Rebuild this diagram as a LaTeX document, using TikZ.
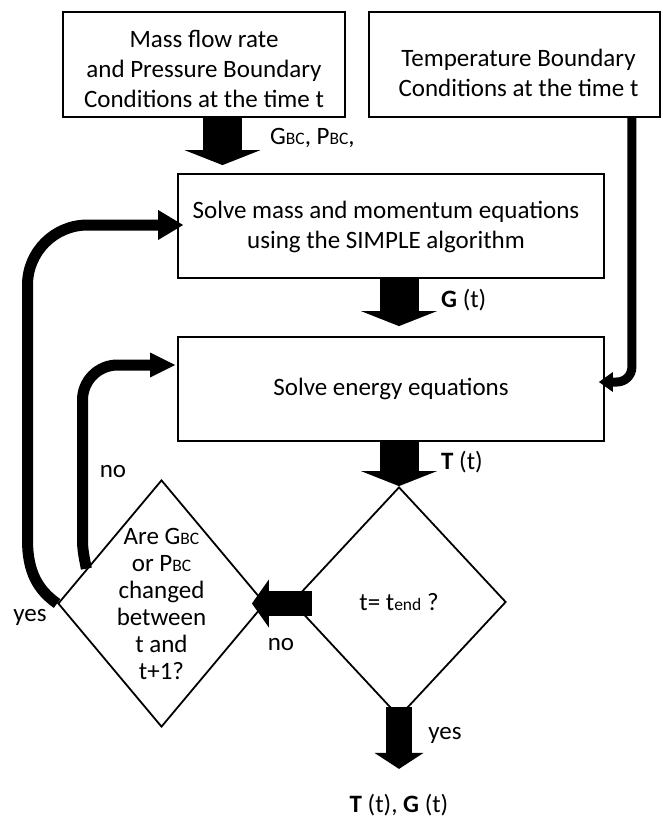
\documentclass[tikz,border=0pt]{standalone}
\usepackage{fontspec}
\setmainfont{Carlito}
\usetikzlibrary{arrows.meta,shapes.geometric,calc}
\newcommand\sbc[1]{{\fontsize{17.5pt}{17.5pt}\selectfont #1}}
\begin{document}
\begin{tikzpicture}[x=1pt,y=-1pt,
  every node/.style={font=\fontsize{25pt}{30pt}\selectfont},
  box/.style={draw, line width=1.8pt, inner sep=0pt},
  dia/.style={draw, diamond, line width=1.8pt, inner sep=0pt},
  txt/.style={inner sep=0pt, align=center},
  lbl/.style={inner sep=0pt},
  blkA/.style={line width=39pt, -{Triangle[width=76pt,length=15pt,line width=0pt]}},
  blkB/.style={line width=26pt, -{Triangle[width=49pt,length=16pt,line width=0pt]}},
  loopl/.style={line width=11pt},
  tipO/.style={-{Triangle[width=30pt,length=25pt,line width=0pt]}},
  tipI/.style={-{Triangle[width=25pt,length=25pt,line width=0pt]}},
  tipR/.style={-{Triangle[width=20pt,length=14pt,line width=0pt]}}
]
\fill[white] (0,0) rectangle (662,821);
\useasboundingbox (0,0) rectangle (662,821);

% boxes
\node[box, minimum width=282pt, minimum height=105pt] (b1) at (204,64.5) {};
\node[txt] (b1t) at (204,69) {Mass flow rate\\and Pressure Boundary\\Conditions at the time t};
\node[box, minimum width=291pt, minimum height=105pt] (b2) at (514.5,64.5) {};
\node[txt] (b2t) at (518.5,73) {Temperature Boundary\\Conditions at the time t};
\node[box, minimum width=426pt, minimum height=104pt] (mass) at (391,226) {};
\node[txt] (masst) at (386,227) {Solve mass and momentum equations\\using the SIMPLE algorithm};
\node[box, txt, minimum width=426pt, minimum height=104pt] (energy) at (391,389)
  {Solve energy equations};

% diamonds
\node[dia, minimum width=207pt, minimum height=247pt] (d1) at (161.5,603.5) {};
\node[txt, font=\fontsize{25pt}{27pt}\selectfont] (d1t) at (161.5,604)
  {Are G\sbc{BC}\\or P\sbc{BC}\\changed\\between\\t and\\t+1?};
\node[dia, minimum width=214pt, minimum height=230pt] (d2) at (399,602) {};
\node[txt] (d2t) at (399,602) {t= t\sbc{end} ?};

% block arrows
\coordinate (a1s) at ($(b1.south)+(18.5,0)$);
\draw[blkA] (a1s) -- ($(a1s |- mass.north)+(0,-8)$);
\draw[blkA] (d2.north |- mass.south) -- ($(d2.north |- energy.north)+(0,-10)$);
\draw[blkA] (d2.north |- energy.south) -- (d2.north);
\draw[blkB] ($(d2.south)+(0,-11)$) -- ($(d2.south)+(0,51)$);
\draw[line width=25pt, -{Triangle[width=48pt,length=17pt,line width=0pt]}]
  ($(d2.west)+(21,1.5)$) -- ($(d1.east)+(-14,0)$);

% loops
\coordinate (ot) at ($(mass.west)+(6,-1)$);
\coordinate (it) at ($(energy.west)+(-2,-24)$);
\draw[loopl, tipO] (d1.west) .. controls (38,590) and (27.5,572) .. (27.5,540)
  [rounded corners=60pt] -- (27.5,0 |- ot) -- (ot);
\draw[loopl, tipI] ($(d1.west)!0.28!(d1.north)$) .. controls (84,556) and (82.5,550) .. (82.5,540)
  [rounded corners=35pt] -- (82.5,0 |- it) -- (it);
\coordinate (rs) at ($(b2.south east)+(-29,0)$);
\coordinate (rt) at ($(energy.east)+(-6,-7)$);
\draw[line width=9pt, tipR, rounded corners=15pt] (rs) -- (rs |- rt) -- (rt);

% labels
\node[lbl, anchor=west] (lg) at (270,138) {G\sbc{BC}, P\sbc{BC},};
\node[lbl, anchor=west] (lgt) at (441,300) {\textbf{G} (t)};
\node[lbl, anchor=west] (ltt) at (441,462) {\textbf{T} (t)};
\node[lbl] (no1) at (113,472) {no};
\node[lbl] (yes1) at (30,617) {yes};
\node[lbl] (no2) at (281,645) {no};
\node[lbl] (yes2) at (445,735) {yes};
\node[lbl] (out) at (399,805) {\textbf{T} (t), \textbf{G} (t)};
\end{tikzpicture}
\end{document}
